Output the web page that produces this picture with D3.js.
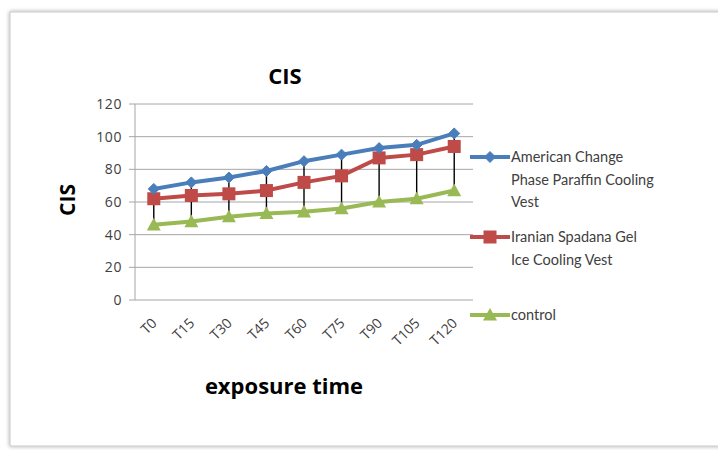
<!DOCTYPE html>
<html><head><meta charset="utf-8">
<script src="https://cdn.jsdelivr.net/npm/d3@7"></script>
<style>body{margin:0;background:#fff;}svg{display:block;}</style>
</head><body>
<svg id="c" width="718" height="450"></svg>
<script>
const categories = ["T0","T15","T30","T45","T60","T75","T90","T105","T120"];
const american = [68, 72, 75, 79, 85, 89, 93, 95, 102];
const iranian = [62, 64, 65, 67, 72, 76, 87, 89, 94];
const control = [46, 48, 51, 53, 54, 56, 60, 62, 67];
const yTicks = [0, 20, 40, 60, 80, 100, 120];
const seriesNames = ["American Change Phase Paraffin Cooling Vest", "Iranian Spadana Gel Ice Cooling Vest", "control"];
const colors = ["#4a7ebb", "#be4b48", "#98b954"];

(function(){
const svg = d3.select("#c");
const font = "Lato, 'Open Sans', sans-serif";
const font2 = "'Open Sans', sans-serif";

// frame with shadow
const defs = svg.append("defs");
const f = defs.append("filter").attr("id","sh").attr("x","-5%").attr("y","-5%").attr("width","110%").attr("height","110%");
f.append("feGaussianBlur").attr("in","SourceAlpha").attr("stdDeviation",2);
f.append("feComponentTransfer").append("feFuncA").attr("type","linear").attr("slope",0.35);
const m = f.append("feMerge"); m.append("feMergeNode"); m.append("feMergeNode").attr("in","SourceGraphic");
svg.append("rect").attr("x",10).attr("y",12).attr("width",720).attr("height",434)
  .attr("fill","#fff").attr("stroke","#c8c8c8").attr("stroke-width",1).attr("filter","url(#sh)");

const pL = 135, pR = 473, pT = 104, pB = 300;
const x = d3.scaleBand().domain(categories).range([pL, pR]);
const y = d3.scaleLinear().domain([0,120]).range([pB, pT]);
const cx = d => x(d) + x.bandwidth()/2;

// grid
svg.append("g").selectAll("line").data(yTicks).join("line")
  .attr("x1", pL-6).attr("x2", pR).attr("y1", d=>y(d)).attr("y2", d=>y(d))
  .attr("stroke","#a6a6a6").attr("stroke-width",1);
svg.append("line").attr("x1",pL).attr("x2",pL).attr("y1",pT).attr("y2",pB).attr("stroke","#a6a6a6");
// y labels
svg.append("g").selectAll("text").data(yTicks).join("text")
  .attr("x", pL-13).attr("y", d=>y(d)+5).attr("text-anchor","end").attr("letter-spacing",0.6)
  .attr("font-family",font2).attr("font-size",14).attr("fill","#404040").text(d=>d);
// x labels
svg.append("g").selectAll("text").data(categories).join("text")
  .attr("transform", d=>`translate(${cx(d)+4},${pB+24}) rotate(-45)`)
  .attr("text-anchor","end").attr("font-family",font2).attr("font-size",14).attr("fill","#404040").text(d=>d);

// high-low lines
svg.append("g").selectAll("line").data(categories).join("line")
  .attr("x1", d=>cx(d)).attr("x2", d=>cx(d))
  .attr("y1", (d,i)=>y(Math.max(american[i],iranian[i],control[i])))
  .attr("y2", (d,i)=>y(Math.min(american[i],iranian[i],control[i])))
  .attr("stroke","#000").attr("stroke-width",1.4);

const line = d3.line().x((d,i)=>cx(categories[i])).y(d=>y(d));
const all = [american, iranian, control];
function marker(g, k, px, py, s) {
  if (k===0) g.append("path").attr("d",`M${px},${py-s}L${px+s},${py}L${px},${py+s}L${px-s},${py}Z`).attr("fill",colors[0]).attr("stroke",colors[0]);
  else if (k===1) g.append("rect").attr("x",px-s).attr("y",py-s).attr("width",2*s).attr("height",2*s).attr("fill",colors[1]);
  else g.append("path").attr("d",`M${px},${py-s}L${px+s},${py+s*0.8}L${px-s},${py+s*0.8}Z`).attr("fill",colors[2]);
}
const sizes = [5.5, 6.5, 7];
[2,1,0].forEach(k=>{
  svg.append("path").attr("d", line(all[k])).attr("fill","none").attr("stroke",colors[k]).attr("stroke-width",4);
  const g = svg.append("g");
  all[k].forEach((v,i)=>marker(g,k,cx(categories[i]),y(v),sizes[k]));
});

// titles
svg.append("text").attr("x",285).attr("y",84).attr("text-anchor","middle").attr("font-family",font2)
  .attr("font-weight","bold").attr("font-size",22).attr("fill","#000").text("CIS");
svg.append("text").attr("transform","translate(75,200) rotate(-90)").attr("text-anchor","middle").attr("font-family",font2)
  .attr("font-weight","bold").attr("font-size",21).attr("fill","#000").text("CIS");
svg.append("text").attr("x",284).attr("y",394).attr("text-anchor","middle").attr("font-family",font2)
  .attr("font-weight","bold").attr("font-size",22).attr("fill","#000").text("exposure time");

// legend
const legLines = [["American Change","Phase Paraffin Cooling","Vest"],["Iranian Spadana Gel","Ice Cooling Vest"],["control"]];
const legY = [157, 237, 315];
legLines.forEach((ls,k)=>{
  const g = svg.append("g");
  g.append("line").attr("x1",470).attr("x2",510).attr("y1",legY[k]).attr("y2",legY[k]).attr("stroke",colors[k]).attr("stroke-width",4);
  marker(g,k,490,legY[k],sizes[k]);
  ls.forEach((t,j)=>g.append("text").attr("x",511).attr("y",legY[k]+5+j*22.5).attr("font-family",font)
    .attr("font-size",14.5).attr("fill","#404040").text(t));
});
})();
</script>
</body></html>
